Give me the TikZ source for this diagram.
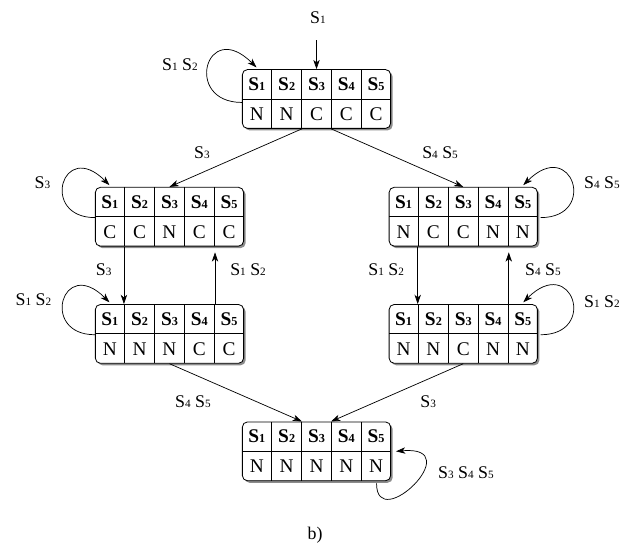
\documentclass[tikz,border=0pt]{standalone}
\usepackage{fontspec}
\setmainfont{Liberation Serif}
\usepackage{array}
\usetikzlibrary{arrows.meta, calc, shadows}

\setlength{\arrayrulewidth}{0.8pt}
\newcommand{\sy}[1]{S{\fontsize{11}{12}\selectfont #1}}
\newcommand{\cy}[1]{S{\fontsize{12}{12}\selectfont #1}}
\newcommand{\cellstrut}{\rule[-0.28cm]{0pt}{1cm}}
\newcommand{\statetab}[5]{%
  \setlength{\tabcolsep}{0pt}%
  \begin{tabular}{w{c}{1cm}|w{c}{1cm}|w{c}{1cm}|w{c}{1cm}|w{c}{1cm}}
    \cellstrut\textbf{\cy{1}} & \textbf{\cy{2}} & \textbf{\cy{3}} & \textbf{\cy{4}} & \textbf{\cy{5}}\\ \hline
    \cellstrut #1 & #2 & #3 & #4 & #5
  \end{tabular}}

\begin{document}
\begin{tikzpicture}[
    state/.style={draw, line width=0.8pt, rounded corners=5pt, fill=white, inner sep=0pt,
      drop shadow={shadow xshift=0.07cm, shadow yshift=-0.07cm, fill=black!45, opacity=1},
      font=\fontsize{19}{20}\selectfont},
    lbl/.style={font=\fontsize{17.5}{20}\selectfont, inner sep=1pt},
    trans/.style={-{Stealth[length=3.2mm, width=2.2mm, inset=0.9mm]}, line width=0.7pt}
  ]
  \useasboundingbox (-10.914, -9.483) rectangle (10.741, 9.483);

  % States
  \node[state] (top) at (0, 6.07) {\statetab{N}{N}{C}{C}{C}};
  \node[state] (lm) at (-5.07, 2.01) {\statetab{C}{C}{N}{C}{C}};
  \node[state] (ll) at (-5.07, -2.03) {\statetab{N}{N}{N}{C}{C}};
  \node[state] (rm) at (5.06, 2.01) {\statetab{N}{C}{C}{N}{N}};
  \node[state] (rl) at (5.06, -2.03) {\statetab{N}{N}{C}{N}{N}};
  \node[state] (bot) at (0, -6.08) {\statetab{N}{N}{N}{N}{N}};

  % Input
  \node[lbl] (in-lbl) at (0.05, 8.86) {\sy{1}};
  \coordinate (in) at (0, 8.1);
  \draw[trans] (in) -- (top.north);

  % Self loops
  \draw[trans] ($(top.west)+(0,-0.12)$) to[out=180, in=135, out looseness=4, in looseness=4.8] ($(top.north west)+(0.5,0.06)$);
  \draw[trans] ($(lm.west)+(0,-0.03)$) to[out=180, in=135, out looseness=4, in looseness=4.8] ($(lm.north west)+(0.5,0.06)$);
  \draw[trans] ($(ll.west)+(0,-0.03)$) to[out=180, in=135, out looseness=4, in looseness=4.8] ($(ll.north west)+(0.5,0.06)$);
  \draw[trans] ($(rm.east)+(0.1,-0.03)$) to[out=0, in=45, out looseness=4, in looseness=4.8] ($(rm.north east)+(-0.5,0.06)$);
  \draw[trans] ($(rl.east)+(0.1,-0.03)$) to[out=0, in=45, out looseness=4, in looseness=4.8] ($(rl.north east)+(-0.5,0.06)$);
  \draw[trans] ($(bot.south east)+(-0.5,-0.08)$) to[out=-90, in=5, out looseness=3.5, in looseness=5] ($(bot.east)+(0.17,0)$);

  \node[lbl] (l-top) at (-4.71, 7.24) {\sy{1} \sy{2}};
  \node[lbl] (l-lm) at (-9.45, 3.17) {\sy{3}};
  \node[lbl] (l-ll) at (-9.76, -0.86) {\sy{1} \sy{2}};
  \node[lbl] (l-rm) at (9.84, 3.17) {\sy{4} \sy{5}};
  \node[lbl] (l-rl) at (9.84, -0.93) {\sy{1} \sy{2}};
  \node[lbl] (l-bot) at (5.15, -6.8) {\sy{3} \sy{4} \sy{5}};

  % Transitions
  \draw[trans] ($(top.south)+(-0.5,0)$) -- (lm.north);
  \draw[trans] ($(top.south)+(0.5,0)$) -- (rm.north);
  \node[lbl] (l-top-lm) at (-3.95, 4.21) {\sy{3}};
  \node[lbl] (l-top-rm) at (4.26, 4.21) {\sy{4} \sy{5}};

  \draw[trans] ($(lm.south west)+(1,0)$) -- ($(ll.north west)+(1,0)$);
  \draw[trans] ($(ll.north east)+(-1,0)$) -- ($(lm.south east)+(-1,-0.2)$);
  \node[lbl] (l-lm-ll) at (-7.34, 0.17) {\sy{3}};
  \node[lbl] (l-ll-lm) at (-2.36, 0.17) {\sy{1} \sy{2}};

  \draw[trans] ($(rm.south west)+(1,0)$) -- ($(rl.north west)+(1,0)$);
  \draw[trans] ($(rl.north east)+(-1,0)$) -- ($(rm.south east)+(-1,-0.2)$);
  \node[lbl] (l-rm-rl) at (2.4, 0.17) {\sy{1} \sy{2}};
  \node[lbl] (l-rl-rm) at (7.81, 0.17) {\sy{4} \sy{5}};

  \draw[trans] (ll.south) -- ($(bot.north)+(-0.5,0)$);
  \draw[trans] (rl.south) -- ($(bot.north)+(0.5,0)$);
  \node[lbl] (l-ll-bot) at (-4.26, -4.38) {\sy{4} \sy{5}};
  \node[lbl] (l-rl-bot) at (3.85, -4.38) {\sy{3}};

  % Caption
  \node[lbl] (cap) at (-0.05, -8.97) {b)};
\end{tikzpicture}
\end{document}
